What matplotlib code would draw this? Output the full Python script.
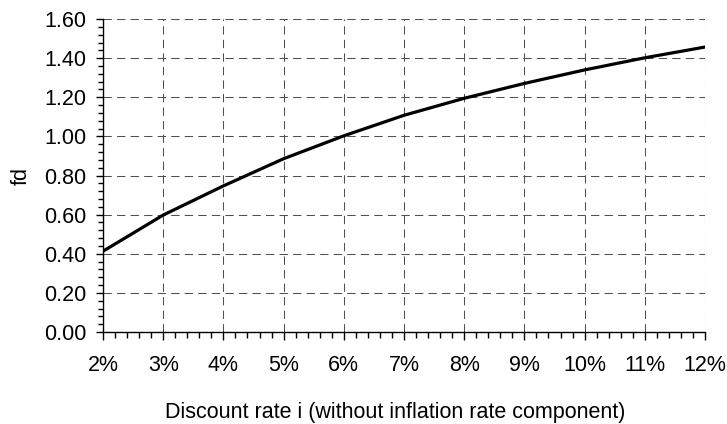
import numpy as np
import matplotlib
matplotlib.use("Agg")
import matplotlib.pyplot as plt
from matplotlib.ticker import MultipleLocator, FuncFormatter

plt.rcParams['font.family'] = ['Liberation Sans', 'DejaVu Sans']

# discount rate (%) and fd values
rate = [2, 3, 4, 5, 6, 7, 8, 9, 10, 11, 12]
fd = [0.413, 0.598, 0.747, 0.886, 1.003, 1.108, 1.195, 1.271, 1.340, 1.402, 1.457]

fig = plt.figure(figsize=(7.27, 4.24), dpi=100)
ax = fig.add_axes([0.1417, 0.217, 0.828, 0.738])

ax.plot(rate, fd, color="black", lw=2.3, zorder=3)

ax.set_xlim(2, 12)
ax.set_ylim(0, 1.6)
ax.xaxis.set_major_locator(MultipleLocator(1))
ax.xaxis.set_minor_locator(MultipleLocator(0.2))
ax.yaxis.set_major_locator(MultipleLocator(0.2))
ax.yaxis.set_minor_locator(MultipleLocator(0.04))
ax.xaxis.set_major_formatter(FuncFormatter(lambda v, p: "%d%%" % round(v)))
ax.yaxis.set_major_formatter(FuncFormatter(lambda v, p: "%.2f" % v))

ax.grid(True, which="major", color="#505050", lw=0.75, dashes=(8, 5))
for s in ["top", "right"]:
    ax.spines[s].set_visible(False)
for s in ["left", "bottom"]:
    ax.spines[s].set_linewidth(1.0)

fs = 15.5
ax.tick_params(axis="y", which="major", length=5, width=1, labelsize=fs, pad=7)
ax.tick_params(axis="y", which="minor", length=3.5, width=1)
ax.tick_params(axis="x", which="major", length=6, width=1, labelsize=fs, pad=10.5)
ax.tick_params(axis="x", which="minor", length=4, width=1)

ax.set_xlabel("Discount rate i (without inflation rate component)", fontsize=fs, labelpad=19)
ax.xaxis.label.set_x(0.485)
ax.set_ylabel("fd", fontsize=fs, labelpad=9)

fig.savefig("out.png", dpi=100)
